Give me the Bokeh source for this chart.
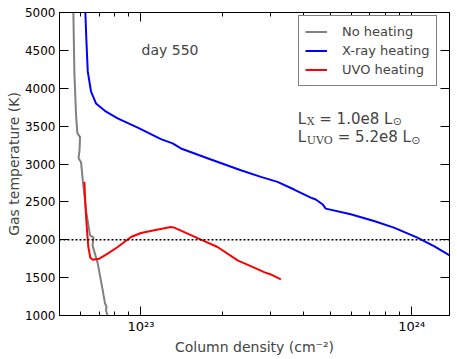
from bokeh.plotting import figure
from bokeh.models import (LinearAxis, LogAxis, FixedTicker, Span, Label, Legend,
                          LegendItem, Range1d, CustomJSTickFormatter)
from bokeh.embed import file_html
from bokeh.resources import INLINE

# ---------------- data ----------------
gray_N = [5.60e22, 5.626e22, 5.674e22, 5.756e22, 5.820e22, 5.955e22, 5.930e22, 5.880e22,
          6.006e22, 6.094e22, 6.266e22, 6.483e22, 6.679e22, 6.622e22, 6.922e22, 7.222e22,
          7.365e22, 7.459e22, 7.427e22, 7.521e22, 7.553e22]
gray_T = [5200, 5000, 4215, 3646, 3408, 3355, 3183, 3077,
          3024, 2786, 2389, 2058, 2032, 1926, 1688, 1331,
          1159, 1119, 1066, 1000, 934]

blue_N = [6.20e22, 6.23e22, 6.28e22, 6.36e22, 6.54e22, 6.82e22, 7.43e22, 8.20e22, 9.86e22,
          1.185e23, 1.309e23, 1.405e23, 1.813e23, 2.339e23, 2.773e23, 3.194e23, 3.679e23,
          4.240e23, 4.424e23, 4.683e23, 4.816e23, 5.956e23, 7.26e23, 8.60e23, 1.05e24,
          1.209e24, 1.40e24]
blue_T = [5200, 5000, 4661, 4219, 3954, 3800, 3690, 3602, 3470,
          3328, 3272, 3205, 3060, 2918, 2830, 2764, 2663,
          2557, 2531, 2469, 2411, 2336, 2248, 2160, 2028,
          1917, 1781]

red_N = [6.178e22, 6.230e22, 6.304e22, 6.390e22, 6.499e22, 6.634e22, 7.017e22, 7.534e22,
         8.204e22, 9.186e22, 1.0e23, 1.120e23, 1.290e23, 1.327e23, 1.487e23, 1.665e23,
         1.919e23, 2.275e23, 2.619e23, 2.851e23, 3.018e23, 3.286e23]
red_T = [2764, 2478, 2168, 1904, 1763, 1737, 1750, 1816,
         1904, 2036, 2089, 2125, 2168, 2160, 2081, 2001,
         1904, 1728, 1631, 1573, 1542, 1476]

threshold_T = 2000
x_major = [1e23, 1e24]
x_major_labels = {1e23: "10²³", 1e24: "10²⁴"}
x_minor = [6e22, 7e22, 8e22, 9e22, 2e23, 3e23, 4e23, 5e23, 6e23, 7e23, 8e23, 9e23]
y_ticks = [1000, 1500, 2000, 2500, 3000, 3500, 4000, 4500, 5000]

FONT = "DejaVu Sans"

p = figure(frame_width=390, frame_height=303, x_axis_type="log",
           x_range=Range1d(5e22, 1.38e24), y_range=Range1d(1000, 5000),
           output_backend="svg", toolbar_location=None,
           min_border_left=59, min_border_top=12, min_border_right=6, min_border_bottom=42,
           background_fill_color="white", border_fill_color="white")
p.grid.visible = False
p.outline_line_color = "black"


def style_axis(ax, labels=True):
    ax.axis_line_color = "black"
    ax.major_tick_line_color = "black"
    ax.minor_tick_line_color = "black"
    ax.major_tick_in = 9
    ax.major_tick_out = 0
    ax.minor_tick_in = 4
    ax.minor_tick_out = 0
    ax.major_label_text_font = FONT
    ax.major_label_text_color = "black"
    ax.axis_label_text_font = FONT
    ax.axis_label_text_font_style = "normal"
    ax.axis_label_text_font_size = "14px"
    if labels:
        ax.major_label_text_font_size = "12px"
    else:
        ax.formatter = CustomJSTickFormatter(code="return '';")
        ax.major_label_text_font_size = "1px"
        ax.major_label_standoff = 0


xb = p.xaxis[0]
xb.ticker = FixedTicker(ticks=x_major, minor_ticks=x_minor)
xb.major_label_overrides = x_major_labels
xb.axis_label = "Column density (cm⁻²)"
style_axis(xb)
xb.major_label_text_font_size = "13px"
xb.major_label_standoff = 3
xb.axis_label_standoff = 2

yl = p.yaxis[0]
yl.ticker = FixedTicker(ticks=y_ticks, minor_ticks=[])
yl.axis_label = "Gas temperature (K)"
style_axis(yl)
yl.major_label_standoff = 4
yl.axis_label_standoff = 0

xt = LogAxis(ticker=FixedTicker(ticks=x_major, minor_ticks=x_minor))
style_axis(xt, labels=False)
p.add_layout(xt, "above")
yr = LinearAxis(ticker=FixedTicker(ticks=y_ticks, minor_ticks=[]))
style_axis(yr, labels=False)
p.add_layout(yr, "right")

p.add_layout(Span(location=threshold_T, dimension="width", line_color="black",
                  line_width=1.5, line_dash="2 2"))

r_gray = p.line(gray_N, gray_T, line_color="#808080", line_width=2)
r_blue = p.line(blue_N, blue_T, line_color="#0000ff", line_width=2)
r_red = p.line(red_N, red_T, line_color="#ff0000", line_width=2)

legend = Legend(items=[LegendItem(label="No heating", renderers=[r_gray]),
                       LegendItem(label="X-ray heating", renderers=[r_blue]),
                       LegendItem(label="UVO heating", renderers=[r_red])],
                location=(239, 229), orientation="vertical",
                label_text_font=FONT, label_text_font_size="13px",
                label_standoff=15, glyph_width=22, glyph_height=19, label_height=19,
                spacing=0, padding=6, margin=0,
                border_line_color="black", border_line_width=1,
                background_fill_color="white", background_fill_alpha=1)
p.add_layout(legend)

p.add_layout(Label(x=1.005e23, y=4505, text="day 550", text_font=FONT,
                   text_font_size="14px", text_baseline="alphabetic"))

ax_, y1, y2 = 3.796e23, 3600, 3355
main_sz, sub_sz = "15px", "11px"
pieces = [
    (y1, "L", 0, 0, main_sz, FONT),
    (y1, "X", 9, -3, sub_sz, "DejaVu Serif"),
    (y1, "= 1.0e8 L", 21.5, 0, main_sz, FONT),
    (y1, "⊙", 95, -3, sub_sz, FONT),
    (y2, "L", 0, 0, main_sz, FONT),
    (y2, "UVO", 9, -3, sub_sz, "DejaVu Serif"),
    (y2, "= 5.2e8 L", 40, 0, main_sz, FONT),
    (y2, "⊙", 113.5, -3, sub_sz, FONT),
]
for yy, txt, dx, dy, sz, fnt in pieces:
    p.add_layout(Label(x=ax_, y=yy, text=txt, x_offset=dx, y_offset=dy,
                       text_font=fnt, text_font_size=sz, text_baseline="alphabetic"))

open("out.html", "w").write(file_html(p, INLINE))
